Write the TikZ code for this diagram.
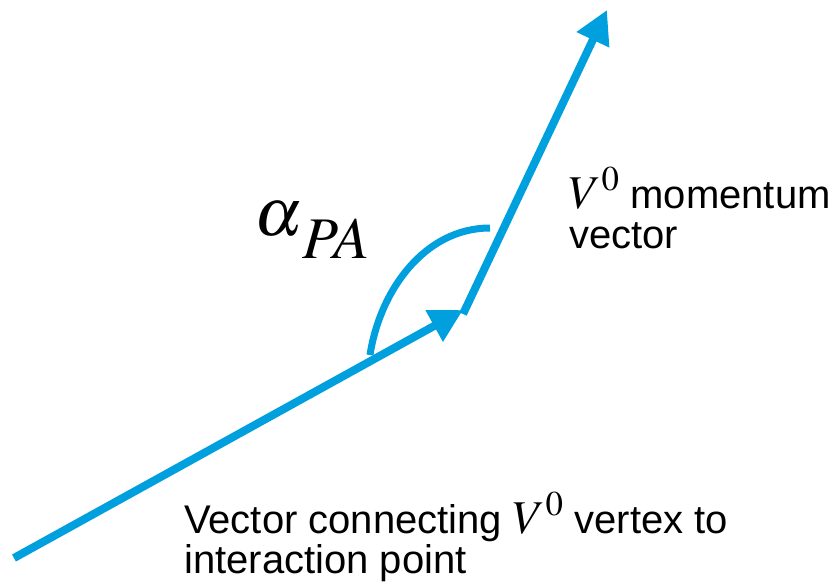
\documentclass[tikz,border=0pt]{standalone}
\usepackage{mathptmx}
\usepackage{fontspec}
\setmainfont{Liberation Sans}
\usetikzlibrary{arrows.meta}
\definecolor{vecblue}{RGB}{0,160,223}
\newcommand{\vzero}{{\fontsize{47}{40}\selectfont$V^0$}}

\begin{document}
\begin{tikzpicture}[
  x=1pt, y=-1pt,
  vec/.style={draw=vecblue, line width=8pt,
              -{Triangle[length=33pt, width=34pt]}},
  anglearc/.style={draw=vecblue, line width=7pt},
  lbl/.style={font=\fontsize{40}{40}\selectfont, align=left,
              inner sep=0pt, anchor=base west},
  anglelbl/.style={font=\fontsize{68}{70}\selectfont,
                   inner sep=0pt, anchor=base west}
]
\useasboundingbox (0,0) rectangle (836,584);

% ---- end points ----
\coordinate (ip)   at (14,558);
\coordinate (vtx)  at (463,310);
\coordinate (mtip) at (607,10);
\coordinate (arcA) at (370,355);
\coordinate (arcB) at (490,228);

% ---- vectors ----
\draw[vec] (ip) -- (vtx);
\draw[vec] ([yshift=-4pt]vtx) -- (mtip);

% ---- angle ----
\draw[anglearc] (arcA) .. controls (380,290) and (425,228) .. (arcB);
\node[anglelbl] (alpha) at (254,235)
  {$\alpha$\raisebox{-23pt}{\fontsize{59}{60}\selectfont$PA$}};

% ---- labels (anchored at the last line) ----
\node[lbl] (mom) at (569,248) {\vzero{} momentum\\vector};
\node[lbl] (conn) at (184,573) {Vector connecting \vzero{} vertex to\\interaction point};

\end{tikzpicture}
\end{document}
